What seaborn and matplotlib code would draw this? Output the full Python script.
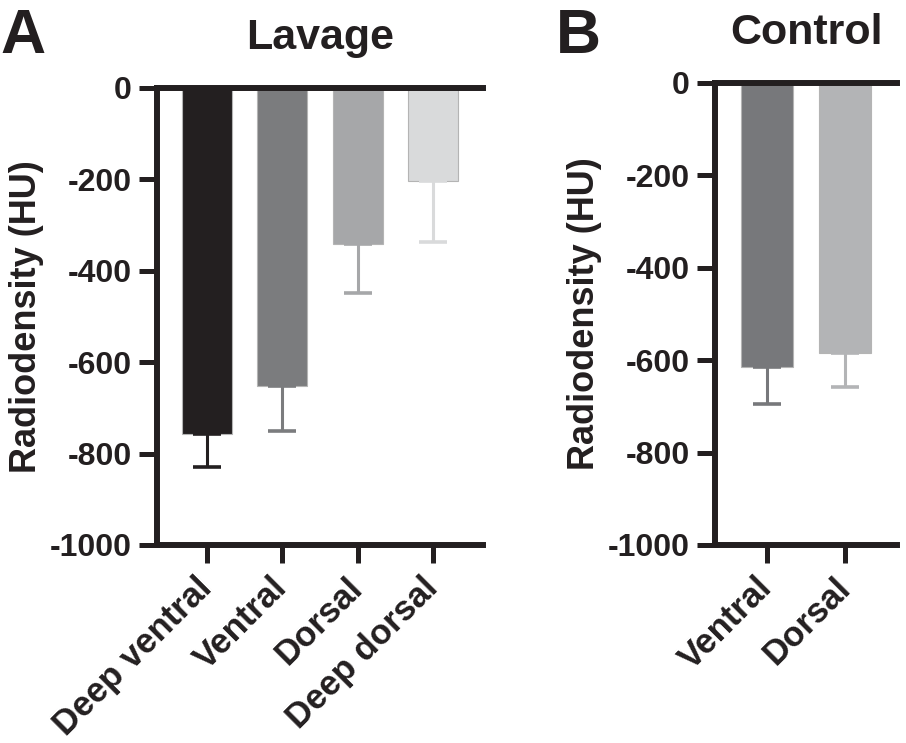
import matplotlib
matplotlib.use('Agg')
import matplotlib.pyplot as plt
import seaborn as sns
import pandas as pd

# Values (HU, mean with downward SD)
lavage_regions = ['Deep ventral', 'Ventral', 'Dorsal', 'Deep dorsal']
lavage_mean = [-757, -652, -341, -203]
lavage_err = [72, 98, 108, 134]
lavage_colors = ['#231f20', '#7b7c7e', '#a6a7a9', '#d9dadb']

control_regions = ['Ventral', 'Dorsal']
control_mean = [-615, -584]
control_err = [80, 74]
control_colors = ['#77787b', '#b3b4b6']

y_ticks = [0, -200, -400, -600, -800, -1000]

sns.set_style('white')
plt.rcParams['font.family'] = ['Liberation Sans', 'DejaVu Sans']
plt.rcParams['font.weight'] = 'bold'
plt.rcParams['axes.unicode_minus'] = False
ink = '#231f20'

fig = plt.figure(figsize=(9.06, 7.43), dpi=100)
ax_a = fig.add_axes([0.1733, 0.2665, 0.3598, 0.6151])
ax_b = fig.add_axes([0.7892, 0.2665, 0.2009, 0.6218])


def draw_panel(ax, regions, means, errs, colors, title):
    df = pd.DataFrame({'region': regions, 'hu': means})
    sns.barplot(data=df, x='region', y='hu', hue='region', palette=colors,
                order=regions, hue_order=regions, saturation=1, width=0.66,
                edgecolor='#b4b4b4', linewidth=0.8, legend=False, ax=ax)
    xs = range(len(regions))
    for x, m, e, c in zip(xs, means, errs, colors):
        ax.errorbar(x, m, yerr=[[e], [0]], fmt='none', ecolor=c,
                    elinewidth=2.2, capsize=10, capthick=2.6, zorder=1)
    ax.set_ylim(-1000, 0)
    ax.set_xlim(-0.66, len(regions) - 1 + 0.66)
    ax.set_yticks(y_ticks)
    ax.set_xlabel('')
    ax.set_ylabel('Radiodensity (HU)', fontsize=26, fontweight='bold',
                  color=ink, labelpad=4)
    ax.set_title(title, fontsize=31, fontweight='bold', color=ink, pad=28)
    for side in ['left', 'top', 'bottom']:
        ax.spines[side].set_visible(True)
        ax.spines[side].set_linewidth(4.3)
        ax.spines[side].set_color(ink)
    ax.spines['right'].set_visible(False)
    ax.tick_params(axis='both', direction='out', length=13, width=3.6,
                   color=ink, labelsize=23, labelcolor=ink, pad=5)
    ax.tick_params(axis='x', top=False, bottom=True, pad=14, labelsize=25)
    ax.tick_params(axis='y', left=True, right=False)
    ax.set_xticks(list(xs))
    ax.set_xticklabels(regions, rotation=45, ha='right', va='center',
                       rotation_mode='anchor', fontweight='bold')
    for lab in ax.get_yticklabels():
        lab.set_fontweight('bold')


draw_panel(ax_a, lavage_regions, lavage_mean, lavage_err, lavage_colors, 'Lavage')
draw_panel(ax_b, control_regions, control_mean, control_err, control_colors, 'Control')

fig.text(0.0, 0.99, 'A', fontsize=45, fontweight='bold', color=ink, va='top', ha='left')
fig.text(0.614, 0.99, 'B', fontsize=45, fontweight='bold', color=ink, va='top', ha='left')

fig.savefig('out.png', dpi=100, facecolor='white')
